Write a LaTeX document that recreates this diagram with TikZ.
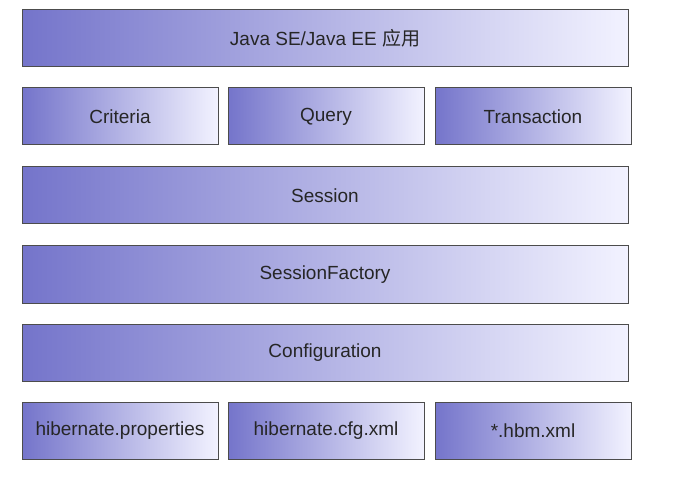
\documentclass[tikz,border=0pt]{standalone}
\usepackage{fontspec}
\setmainfont{Liberation Sans}
\newfontfamily\cjk{Noto Sans CJK SC}
\begin{document}
\begin{tikzpicture}[x=1pt,y=-1pt,
  layer/.style={draw=black!70,line width=1pt,left color=blue!45!gray!75,right color=white!95!blue,
    minimum height=57pt,inner sep=0pt,font=\fontsize{19}{22}\selectfont,text=black!85}]
\useasboundingbox[fill=white] (0,0) rectangle (698,478);
\node[layer,minimum width=606pt] (app) at (325,38.5) {Java SE/Java EE {\cjk 应用}};
\node[layer,minimum width=196pt] (crit) at (120,116.5) {Criteria};
\node[layer,minimum width=196pt] (query) at (326,116.5) {Query};
\node[layer,minimum width=196pt] (trans) at (533,116.5) {Transaction};
\node[layer,minimum width=606pt] (sess) at (325,195.5) {Session};
\node[layer,minimum width=606pt] (sf) at (325,274.5) {SessionFactory};
\node[layer,minimum width=606pt] (conf) at (325,353) {Configuration};
\node[layer,minimum width=196pt] (hp) at (120,431) {hibernate.properties};
\node[layer,minimum width=196pt] (hc) at (326,431) {hibernate.cfg.xml};
\node[layer,minimum width=196pt] (hbm) at (533,431) {*.hbm.xml};
\end{tikzpicture}
\end{document}
